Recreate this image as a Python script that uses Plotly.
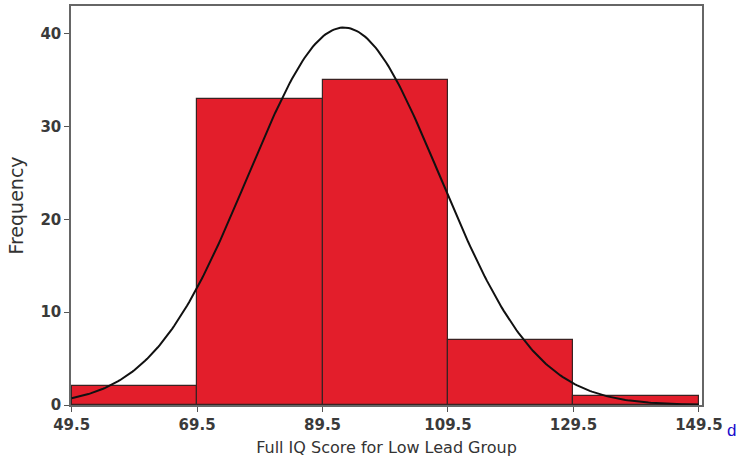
import numpy as np
import plotly.graph_objects as go

bin_edges = [49.5, 69.5, 89.5, 109.5, 129.5, 149.5]
frequencies = [2, 33, 35, 7, 1]
tick_labels = ["49.5", "69.5", "89.5", "109.5", "129.5", "149.5"]
y_ticks = [0, 10, 20, 30, 40]

# normal fit parameters
fit_mean = 92.9
fit_sd = 15.3

centers = [(a + b) / 2 for a, b in zip(bin_edges[:-1], bin_edges[1:])]
width = bin_edges[1] - bin_edges[0]
n_total = sum(frequencies)

xc = np.linspace(bin_edges[0], bin_edges[-1], 300)
yc = n_total * width / (fit_sd * np.sqrt(2 * np.pi)) * np.exp(-0.5 * ((xc - fit_mean) / fit_sd) ** 2)

fig = go.Figure()
fig.add_trace(go.Bar(
    x=centers, y=frequencies, width=width,
    marker=dict(color="#E31E2B", line=dict(color="#3a2222", width=1.2)),
    hoverinfo="skip", showlegend=False,
))
fig.add_trace(go.Scatter(
    x=xc, y=yc, mode="lines",
    line=dict(color="#111111", width=2),
    hoverinfo="skip", showlegend=False,
))

FONT = "DejaVu Sans, Verdana, sans-serif"
tick_font = dict(family=FONT, size=15, color="#3a3a3a")
fig.update_layout(
    width=741, height=462,
    margin=dict(l=71, r=39, t=6, b=57, autoexpand=False),
    paper_bgcolor="white", plot_bgcolor="white",
    bargap=0,
    xaxis=dict(
        range=[49.4, 150.0], automargin=False,
        tickvals=bin_edges, ticktext=["<b>%s</b>" % t for t in tick_labels],
        ticks="outside", ticklen=5, tickcolor="#555555", tickwidth=1,
        showgrid=False, zeroline=False,
        showline=True, linecolor="#666666", linewidth=1.5, mirror=True,
        tickfont=tick_font,
        title=dict(text="Full IQ Score for Low Lead Group",
                   font=dict(family=FONT, size=16, color="#333333"),
                   standoff=9),
    ),
    yaxis=dict(
        range=[0, 43], automargin=False,
        tickvals=y_ticks, ticktext=["<b>%d</b>" % v for v in y_ticks],
        ticks="outside", ticklen=5, tickcolor="#555555", tickwidth=1,
        showgrid=False, zeroline=False,
        showline=True, linecolor="#666666", linewidth=1.5, mirror=True,
        tickfont=tick_font,
        title=dict(text="Frequency",
                   font=dict(family=FONT, size=19, color="#333333"),
                   standoff=12),
    ),
    annotations=[dict(
        text="d", xref="paper", yref="paper", x=1.0, y=0, xshift=23, yshift=-25,
        xanchor="left", yanchor="middle", showarrow=False,
        font=dict(family="Arial, Liberation Sans, sans-serif", size=17, color="#1a0dcc"),
    )],
)

fig.write_html(
    "out.html",
    config={"displayModeBar": False},
    post_script="document.body.style.margin='0';document.body.style.overflow='hidden';",
)
